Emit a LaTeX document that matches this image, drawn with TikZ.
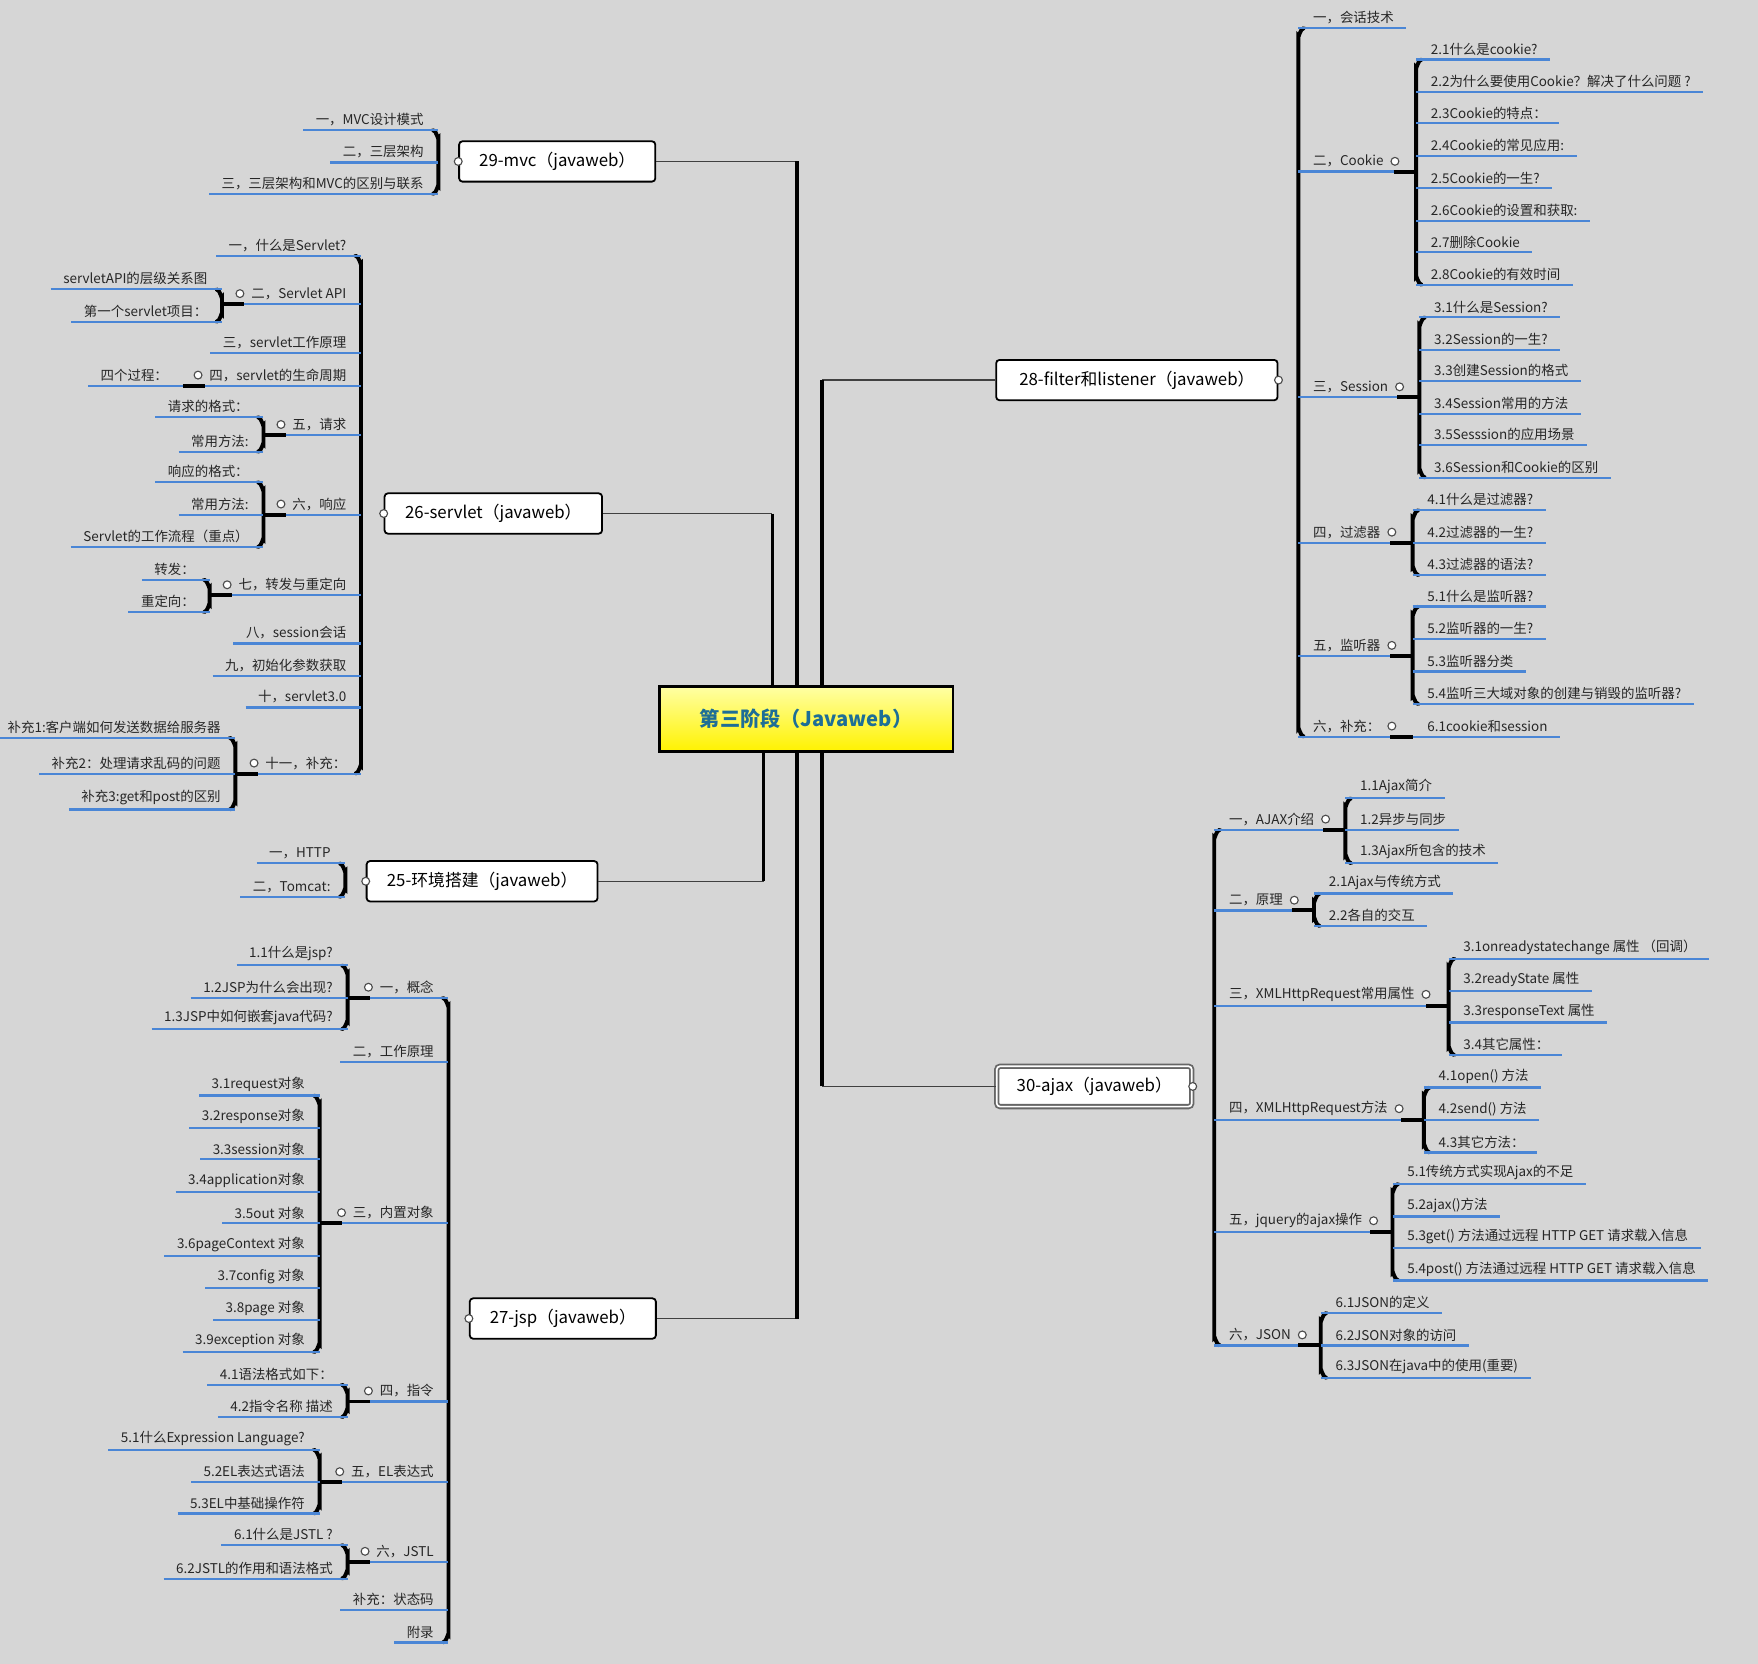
\documentclass[tikz,border=0pt]{standalone}
\usepackage{fontspec}
\setmainfont{Noto Sans CJK SC}
\definecolor{ulc}{RGB}{74,134,214}
\definecolor{ctext}{RGB}{30,110,150}
\begin{document}
\begin{tikzpicture}[x=1pt,y=-1pt,
 lt/.style={inner xsep=1pt,inner ysep=3.5pt,font=\fontsize{12}{13}\selectfont,text=black!85},
 ul/.style={draw=ulc,line width=2pt},
 br/.style={line width=3.5pt,line cap=round},
 stub/.style={line width=3.5pt},
 dot/.style={circle,draw=black!70,fill=white,line width=1pt,inner sep=0pt,minimum size=7pt},
 topic/.style={draw=black,line width=1.6pt,fill=white,rounded corners=3pt,minimum height=36pt,inner xsep=10pt,font=\fontsize{15}{17}\selectfont},
 tr/.style={draw=black!75,line width=1.3pt},
 tv/.style={line width=3pt}]
\fill[black!16] (0,0) rectangle (1568,1484);
\useasboundingbox (0,0) rectangle (1568,1484);
% ---- macros
\newcommand\Lf[4]{\node[lt,anchor=south east] (#1) at ({#2-12},#3) {#4};
 \draw[ul] ([xshift=-10pt]#1.south west) -- (#2,#3);}
\newcommand\Rf[4]{\node[lt,anchor=south west] (#1) at ({#2+12},#3) {#4};
 \draw[ul] (#2,#3) -- ([xshift=10pt]#1.south east);}
\newcommand\Lp[5]{\node[lt,anchor=south east] (#1) at ({#2-12},#3) {#4};
 \draw[ul] (#5,#3) -- (#2,#3);
 \draw[stub] (#5,#3) -- ({#5+20},#3);
 \node[dot] at ([xshift=-9pt]#1.west) {};}
\newcommand\Rp[5]{\node[lt,anchor=south west] (#1) at ({#2+12},#3) {#4};
 \draw[ul] (#2,#3) -- (#5,#3);
 \draw[stub] ({#5-20},#3) -- (#5,#3);
 \node[dot] at ([xshift=9pt]#1.east) {};}
\newcommand\BL[3]{\draw[br] ({#1-5},#2) to[out=0,in=-90] (#1,{#2+7}) -- (#1,{#3-7}) to[out=90,in=0] ({#1-5},#3);}
\newcommand\BR[3]{\draw[br] ({#1+5},#2) to[out=180,in=-90] (#1,{#2+7}) -- (#1,{#3-7}) to[out=90,in=180] ({#1+5},#3);}
% ---- center
\node[draw=black,line width=2.5pt,top color=yellow!35,bottom color=yellow!90!orange,minimum width=262pt,minimum height=58pt,font=\fontsize{18}{21}\selectfont\bfseries,text=ctext] (c) at (719,641) {第三阶段（Javaweb）};
% ---- topics
\node[topic,minimum width=175pt] (mvc) at (497,144) {29-mvc（javaweb）};
\node[topic,minimum width=194pt] (srv) at (440,458) {26-servlet（javaweb）};
\node[topic,minimum width=206pt] (env) at (430,786) {25-环境搭建（javaweb）};
\node[topic,minimum width=166pt] (jsp) at (502,1176) {27-jsp（javaweb）};
\node[topic,minimum width=251pt] (flt) at (1014,339) {28-filter和listener（javaweb）};
\node[topic,minimum width=174pt,double=white,double distance=1.5pt,draw=black!60] (ajx) at (976,969) {30-ajax（javaweb）};
% ---- trunks
\draw[tr] (mvc.east) -- (711,144); \draw[tv] (711,144) -- (711,612);
\draw[tr] (srv.east) -- (689,458); \draw[tv] (689,458) -- (689,612);
\draw[tr] (env.east) -- (681,786); \draw[tv] (681,786) -- (681,670);
\draw[tr] (jsp.east) -- (711,1176); \draw[tv] (711,1176) -- (711,670);
\draw[tr] (flt.west) -- (733,339); \draw[tv] (733,339) -- (733,612);
\draw[tr] (ajx.west) -- (733,969); \draw[tv] (733,969) -- (733,670);
\foreach \n/\a in {mvc/west,srv/west,env/west,jsp/west,flt/east,ajx/east}{\node[dot] at (\n.\a) {};}
% ---- 29 mvc
\BL{391}{116}{173}
\Lf{m1}{391}{116}{一，MVC设计模式}
\Lf{m2}{391}{145}{二，三层架构}
\Lf{m3}{391}{173}{三，三层架构和MVC的区别与联系}
% ---- 26 servlet
\BL{322}{228}{690}
\Lf{s1}{322}{228}{一，什么是Servlet?}
\Lp{s2}{322}{271}{二，Servlet API}{198}
\BL{198}{258}{287}
\Lf{s21}{198}{258}{servletAPI的层级关系图}
\Lf{s22}{198}{287}{第一个servlet项目：}
\Lf{s3}{322}{315}{三，servlet工作原理}
\Lp{s4}{322}{344}{四，servlet的生命周期}{163}
\Lf{s41}{163}{344}{四个过程：}
\Lp{s5}{322}{388}{五，请求}{235}
\BL{235}{372}{403}
\Lf{s51}{235}{372}{请求的格式：}
\Lf{s52}{235}{403}{常用方法:}
\Lp{s6}{322}{459}{六，响应}{235}
\BL{235}{430}{488}
\Lf{s61}{235}{430}{响应的格式：}
\Lf{s62}{235}{459}{常用方法:}
\Lf{s63}{235}{488}{Servlet的工作流程（重点）}
\Lp{s7}{322}{531}{七，转发与重定向}{187}
\BL{187}{517}{546}
\Lf{s71}{187}{517}{转发：}
\Lf{s72}{187}{546}{重定向：}
\Lf{s8}{322}{574}{八，session会话}
\Lf{s9}{322}{603}{九，初始化参数获取}
\Lf{s10}{322}{631}{十，servlet3.0}
\Lp{s11}{322}{690}{十一，补充：}{210}
\BL{210}{658}{722}
\Lf{s111}{210}{658}{补充1:客户端如何发送数据给服务器}
\Lf{s112}{210}{690}{补充2：处理请求乱码的问题}
\Lf{s113}{210}{722}{补充3:get和post的区别}
% ---- 25 env
\BL{308}{770}{800}
\Lf{e1}{308}{770}{一，HTTP}
\Lf{e2}{308}{800}{二，Tomcat:}
% ---- 27 jsp
\BL{400}{890}{1465}
\Lp{j1}{400}{890}{一，概念}{310}
\BL{310}{861}{918}
\Lf{j11}{310}{861}{1.1什么是jsp?}
\Lf{j12}{310}{890}{1.2JSP为什么会出现?}
\Lf{j13}{310}{918}{1.3JSP中如何嵌套java代码?}
\Lf{j2}{400}{947}{二，工作原理}
\Lp{j3}{400}{1091}{三，内置对象}{285}
\BL{285}{977}{1206}
\Lf{j31}{285}{977}{3.1request对象}
\Lf{j32}{285}{1006}{3.2response对象}
\Lf{j33}{285}{1034}{3.3session对象}
\Lf{j34}{285}{1063}{3.4application对象}
\Lf{j35}{285}{1091}{3.5out 对象}
\Lf{j36}{285}{1120}{3.6pageContext 对象}
\Lf{j37}{285}{1149}{3.7config 对象}
\Lf{j38}{285}{1177}{3.8page 对象}
\Lf{j39}{285}{1206}{3.9exception 对象}
\Lp{j4}{400}{1250}{四，指令}{310}
\BL{310}{1235}{1264}
\Lf{j41}{310}{1235}{4.1语法格式如下：}
\Lf{j42}{310}{1264}{4.2指令名称 描述}
\Lp{j5}{400}{1322}{五，EL表达式}{285}
\BL{285}{1293}{1350}
\Lf{j51}{285}{1293}{5.1什么Expression Language?}
\Lf{j52}{285}{1322}{5.2EL表达式语法}
\Lf{j53}{285}{1350}{5.3EL中基础操作符}
\Lp{j6}{400}{1393}{六，JSTL}{310}
\BL{310}{1378}{1408}
\Lf{j61}{310}{1378}{6.1什么是JSTL ?}
\Lf{j62}{310}{1408}{6.2JSTL的作用和语法格式}
\Lf{j7}{400}{1436}{补充：状态码}
\Lf{j8}{400}{1465}{附录}
% ---- 28 filter
\BR{1158}{25}{657}
\Rf{f1}{1158}{25}{一，会话技术}
\Rp{f2}{1158}{153}{二，Cookie}{1263}
\BR{1263}{53}{254}
\Rf{f21}{1263}{53}{2.1什么是cookie?}
\Rf{f22}{1263}{82}{2.2为什么要使用Cookie？解决了什么问题 ?}
\Rf{f23}{1263}{110}{2.3Cookie的特点：}
\Rf{f24}{1263}{139}{2.4Cookie的常见应用:}
\Rf{f25}{1263}{168}{2.5Cookie的一生?}
\Rf{f26}{1263}{197}{2.6Cookie的设置和获取:}
\Rf{f27}{1263}{225}{2.7删除Cookie}
\Rf{f28}{1263}{254}{2.8Cookie的有效时间}
\Rp{f3}{1158}{354}{三，Session}{1266}
\BR{1266}{283}{426}
\Rf{f31}{1266}{283}{3.1什么是Session?}
\Rf{f32}{1266}{312}{3.2Session的一生?}
\Rf{f33}{1266}{340}{3.3创建Session的格式}
\Rf{f34}{1266}{369}{3.4Session常用的方法}
\Rf{f35}{1266}{397}{3.5Sesssion的应用场景}
\Rf{f36}{1266}{426}{3.6Session和Cookie的区别}
\Rp{f4}{1158}{484}{四，过滤器}{1260}
\BR{1260}{455}{513}
\Rf{f41}{1260}{455}{4.1什么是过滤器?}
\Rf{f42}{1260}{484}{4.2过滤器的一生?}
\Rf{f43}{1260}{513}{4.3过滤器的语法?}
\Rp{f5}{1158}{585}{五，监听器}{1260}
\BR{1260}{541}{628}
\Rf{f51}{1260}{541}{5.1什么是监听器?}
\Rf{f52}{1260}{570}{5.2监听器的一生?}
\Rf{f53}{1260}{599}{5.3监听器分类}
\Rf{f54}{1260}{628}{5.4监听三大域对象的创建与销毁的监听器?}
\Rp{f6}{1158}{657}{六，补充：}{1260}
\Rf{f61}{1260}{657}{6.1cookie和session}
% ---- 30 ajax
\BR{1083}{740}{1200}
\Rp{a1}{1083}{740}{一，AJAX介绍}{1200}
\BR{1200}{712}{770}
\Rf{a11}{1200}{712}{1.1Ajax简介}
\Rf{a12}{1200}{740}{1.2异步与同步}
\Rf{a13}{1200}{770}{1.3Ajax所包含的技术}
\Rp{a2}{1083}{812}{二，原理}{1172}
\BR{1172}{797}{826}
\Rf{a21}{1172}{797}{2.1Ajax与传统方式}
\Rf{a22}{1172}{826}{2.2各自的交互}
\Rp{a3}{1083}{897}{三，XMLHttpRequest常用属性}{1292}
\BR{1292}{855}{941}
\Rf{a31}{1292}{855}{3.1onreadystatechange 属性 （回调）}
\Rf{a32}{1292}{884}{3.2readyState 属性}
\Rf{a33}{1292}{912}{3.3responseText 属性}
\Rf{a34}{1292}{941}{3.4其它属性：}
\Rp{a4}{1083}{999}{四，XMLHttpRequest方法}{1270}
\BR{1270}{970}{1028}
\Rf{a41}{1270}{970}{4.1open() 方法}
\Rf{a42}{1270}{999}{4.2send() 方法}
\Rf{a43}{1270}{1028}{4.3其它方法：}
\Rp{a5}{1083}{1099}{五，jquery的ajax操作}{1242}
\BR{1242}{1056}{1142}
\Rf{a51}{1242}{1056}{5.1传统方式实现Ajax的不足}
\Rf{a52}{1242}{1085}{5.2ajax()方法}
\Rf{a53}{1242}{1113}{5.3get() 方法通过远程 HTTP GET 请求载入信息}
\Rf{a54}{1242}{1142}{5.4post() 方法通过远程 HTTP GET 请求载入信息}
\Rp{a6}{1083}{1200}{六，JSON}{1178}
\BR{1178}{1171}{1229}
\Rf{a61}{1178}{1171}{6.1JSON的定义}
\Rf{a62}{1178}{1200}{6.2JSON对象的访问}
\Rf{a63}{1178}{1229}{6.3JSON在java中的使用(重要)}
\end{tikzpicture}
\end{document}
